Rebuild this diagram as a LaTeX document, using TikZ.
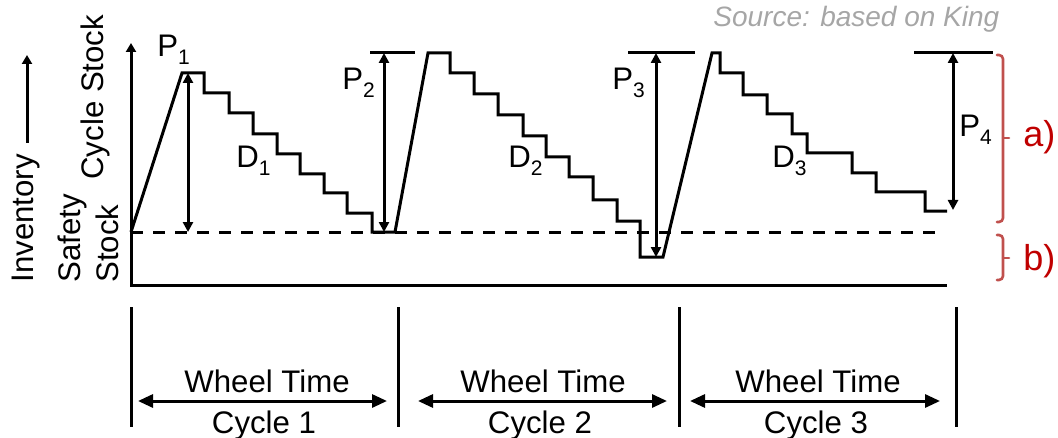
\documentclass[tikz,border=0pt]{standalone}
\usepackage{fontspec}
\setmainfont{Liberation Sans}
\usetikzlibrary{arrows.meta,positioning,calc}
\definecolor{BraceRed}{HTML}{C0504D}
\definecolor{LabelRed}{HTML}{C00000}
\definecolor{SourceGray}{HTML}{A6A6A6}
\newcommand{\idx}[2]{#1\raisebox{-4pt}{\fontsize{10.5}{10.5}\selectfont#2}}
\tikzset{
  stockline/.style={line width=1.5pt,line join=miter},
  safetyline/.style={line width=1.5pt,dash pattern=on 6pt off 5pt},
  sizearrow/.style={line width=1.5pt,{Triangle[length=5pt,width=5pt]}-{Triangle[length=5pt,width=5pt]}},
  timearrow/.style={line width=1.5pt,{Triangle[length=7.5pt,width=6.5pt]}-{Triangle[length=7.5pt,width=6.5pt]}},
  axislabel/.style={rotate=90,anchor=base west,inner sep=0pt},
  amount/.style={anchor=base west,inner sep=0pt},
  bracket/.style={BraceRed,line width=1.3pt,rounded corners=2pt,line cap=round},
  bracketlabel/.style={LabelRed,anchor=base west,inner sep=0pt,font=\fontsize{18}{20}\selectfont}
}

\begin{document}
\begin{tikzpicture}[x=0.5pt,y=-0.5pt,font=\fontsize{15.6}{18}\selectfont]
  \useasboundingbox (0,0) rectangle (1058,438);

  % Axes and axis labels.
  \coordinate (ytop) at (131,43);
  \coordinate (xend) at (947,285);
  \draw[line width=1.5pt,{Triangle[length=4.5pt,width=5pt]}-] (ytop) |- (xend);
  \coordinate (invlow) at (27,143);
  \coordinate (invtop) at (27,55);
  \draw[line width=1.5pt,-{Triangle[length=4.5pt,width=5pt]}] (invlow) -- (invtop);
  \node (inventory) [axislabel] at (33,283) {Inventory};
  \node (safety) [axislabel] at (80,283) {Safety};
  \node (stock) [axislabel] at (118,283) {Stock};
  \node (cyclestock) [axislabel] at (103,180) {Cycle Stock};

  \node (source) [anchor=base west,inner sep=0pt,SourceGray,
    font=\fontsize{14}{16}\selectfont\itshape] at (713,27) {Source: based on King};

  % Safety stock level.
  \coordinate (ssleft) at (131,232);
  \coordinate (ssright) at (937,232);
  \draw[safetyline] (ssleft) -- (ssright);

  % Inventory over the three cycles.
  \draw[stockline] (ssleft) -- (182,73) -| (204,93) -| (229,113) -| (253,134)
    -| (277,154) -| (300,174) -| (324,193) -| (347,213) -| (372,232)
    -- (395,232) -- (428,53) -| (450,73) -| (474,94) -| (498,115) -| (523,136)
    -| (546,157) -| (569,177) -| (593,200) -| (617,221) -| (640,257)
    -- (663,257) -- (712,53) -| (720,73) -| (743,95) -| (767,114) -| (792,134)
    -| (807,153) -| (852,173) -| (876,192) -| (925,211) -- (947,211);

  % Production quantities.
  \coordinate (p1top) at (188,73);
  \coordinate (p1low) at (188,232);
  \draw[sizearrow] (p1top) -- (p1low);
  \coordinate (p2top) at (384,53);
  \coordinate (p2low) at (384,232);
  \draw[stockline] (370,53) -- (415,53);
  \draw[sizearrow] (p2top) -- (p2low);
  \coordinate (p3top) at (656,53);
  \coordinate (p3low) at (656,257);
  \draw[stockline] (628,53) -- (695,53);
  \draw[sizearrow] (p3top) -- (p3low);
  \coordinate (p4top) at (953,53);
  \coordinate (p4low) at (953,210);
  \draw[stockline] (914,53) -- (993,53);
  \draw[sizearrow] (p4top) -- (p4low);

  \node (p1) [amount] at (157,57) {\idx{P}{1}};
  \node (p2) [amount] at (342,90) {\idx{P}{2}};
  \node (p3) [amount] at (612,90) {\idx{P}{3}};
  \node (p4) [amount] at (959,137) {\idx{P}{4}};
  \node (d1) [amount] at (236,168) {\idx{D}{1}};
  \node (d2) [amount] at (508,168) {\idx{D}{2}};
  \node (d3) [amount] at (772,168) {\idx{D}{3}};

  % Brackets a) and b).
  \draw[bracket] (997,55) -- (1003,55) -- (1003,222) -- (997,222);
  \draw[bracket,rounded corners=0pt] (1003,138) -- (1009,138);
  \draw[bracket] (997,235) -- (1003,235) -- (1003,280) -- (997,280);
  \draw[bracket,rounded corners=0pt] (1003,258) -- (1009,258);
  \node (cyclepart) [bracketlabel] at (1023,147) {a)};
  \node (safetypart) [bracketlabel] at (1023,270) {b)};

  % Wheel time of each cycle.
  \foreach \xb in {131,398,679,956}
    \draw[line width=1.5pt] (\xb,307) -- (\xb,427);
  \foreach \l/\r/\n in {138/387/1,418/667/2,690/940/3}{
    \coordinate (w\n left) at (\l,401);
    \coordinate (w\n right) at (\r,401);
    \draw[timearrow] (w\n left) -- (w\n right);
  }
  \node (wheel1) [anchor=base] at (267,392) {Wheel Time};
  \node (cycle1) [anchor=base] at (264,433) {Cycle 1};
  \node (wheel2) [anchor=base] at (543,392) {Wheel Time};
  \node (cycle2) [anchor=base] at (540,433) {Cycle 2};
  \node (wheel3) [anchor=base] at (818,392) {Wheel Time};
  \node (cycle3) [anchor=base] at (816,433) {Cycle 3};
\end{tikzpicture}
\end{document}
